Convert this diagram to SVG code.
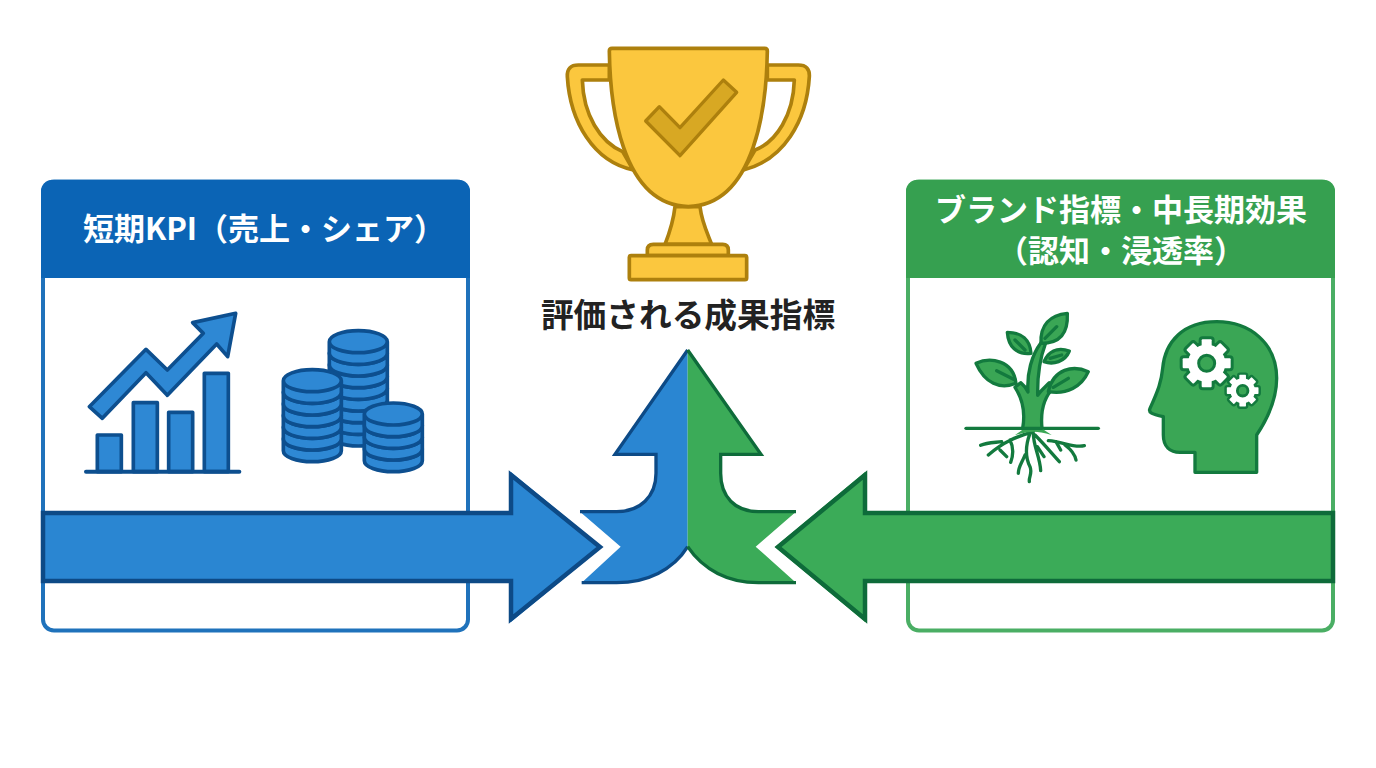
<svg xmlns="http://www.w3.org/2000/svg" width="1376" height="768" viewBox="0 0 1376 768">
<style>
text{font-family:"Noto Sans CJK JP","Noto Sans",sans-serif;font-weight:700;text-anchor:middle}
.hd{fill:#fff;font-size:31px}
.bf{fill:#2a86d2}.bs{fill:none;stroke:#0d4a86;stroke-width:4.500;stroke-linejoin:miter}
.gf{fill:#3bab58}.gs{fill:none;stroke:#0e6b3a;stroke-width:4.500;stroke-linejoin:miter}
.bi{fill:#2e88d4;stroke:#0d4f8f;stroke-width:11;stroke-linejoin:round}
.gi{fill:#3aa655;stroke:#137a3e;stroke-width:10;stroke-linejoin:round;stroke-linecap:round}
.gl{fill:none;stroke:#137a3e;stroke-width:10;stroke-linecap:round;stroke-linejoin:round}
.t{fill:#fbc73e;stroke:#ad800d;stroke-width:11;stroke-linejoin:round}
</style>
<defs>
<path id="coin" d="M-87,0V35A87,33 0 0 0 87,35V0A87,33 0 0 0 -87,0A87,33 0 0 0 87,0" class="bi"/>
<g id="gear"><circle r="56"/><rect x="-15" y="-72" width="30" height="36" rx="3"/><rect x="-15" y="-72" width="30" height="36" rx="3" transform="rotate(45)"/><rect x="-15" y="-72" width="30" height="36" rx="3" transform="rotate(90)"/><rect x="-15" y="-72" width="30" height="36" rx="3" transform="rotate(135)"/><rect x="-15" y="-72" width="30" height="36" rx="3" transform="rotate(180)"/><rect x="-15" y="-72" width="30" height="36" rx="3" transform="rotate(225)"/><rect x="-15" y="-72" width="30" height="36" rx="3" transform="rotate(270)"/><rect x="-15" y="-72" width="30" height="36" rx="3" transform="rotate(315)"/></g>
</defs>
<rect width="1376" height="768" fill="#fff"/>

<g id="panel-short">
<rect x="43" y="181.500" width="425" height="449" rx="11" fill="#fff" stroke="#1f72bb" stroke-width="4"/>
<path d="M41,278V191A11,11 0 0 1 52,180H459A11,11 0 0 1 470,191V278Z" fill="#0b64b5"/>
<text class="hd" x="264" y="240">短期KPI（売上・シェア）</text>
</g>
<g id="icon-chart" transform="translate(60,290) scale(.33333)">
<path class="bi" d="M88,350L258,178L322,240L430,130L398,98L527,70L503,200L470,162L322,316L258,248L127,385Z"/>
<rect class="bi" x="112" y="435" width="72" height="110"/>
<rect class="bi" x="220" y="338" width="72" height="207"/>
<rect class="bi" x="326" y="367" width="72" height="178"/>
<rect class="bi" x="433" y="250" width="72" height="295"/>
<path d="M78,545H538" stroke="#0d4f8f" stroke-width="12" stroke-linecap="round"/>
</g>
<g id="icon-coins" transform="translate(60,290) scale(.33333)">
<use href="#coin" x="895" y="400"/><use href="#coin" x="895" y="365"/><use href="#coin" x="895" y="330"/><use href="#coin" x="895" y="295"/><use href="#coin" x="895" y="260"/><use href="#coin" x="895" y="225"/><use href="#coin" x="895" y="190"/><use href="#coin" x="895" y="155"/>
<use href="#coin" x="757" y="447"/><use href="#coin" x="757" y="412"/><use href="#coin" x="757" y="377"/><use href="#coin" x="757" y="342"/><use href="#coin" x="757" y="307"/><use href="#coin" x="757" y="272"/>
<use href="#coin" x="1000" y="477"/><use href="#coin" x="1000" y="442"/><use href="#coin" x="1000" y="407"/><use href="#coin" x="1000" y="372"/>
</g>

<g id="panel-brand">
<rect x="908" y="181.500" width="425" height="449" rx="11" fill="#fff" stroke="#4aae64" stroke-width="4"/>
<path d="M906,278V191A11,11 0 0 1 917,180H1324A11,11 0 0 1 1335,191V278Z" fill="#36a050"/>
<text class="hd" x="1121" y="221">ブランド指標・中長期効果</text>
<text class="hd" x="1121" y="262">（認知・浸透率）</text>
</g>
<g id="icon-plant" transform="translate(950,300) scale(.33333)">
<path class="gl" d="M250,395C200,410 160,425 115,465M155,425C130,428 110,428 92,436M180,420C190,440 192,460 182,487M150,450L170,470M240,400C225,440 225,470 240,500C248,520 236,530 238,545M225,465C215,490 205,500 205,520M250,400C250,440 270,470 272,512M255,405C285,435 305,460 328,485M295,422C340,425 370,445 403,437M345,435C365,450 375,465 378,480M262,440L282,470M318,425L332,450"/>
<path d="M48,385H445" stroke="#137a3e" stroke-width="10" stroke-linecap="round"/>
<path d="M195,405Q225,385 225,380H270Q275,385 305,405Q270,395 252,395Q230,395 195,405Z" fill="#3aa655"/>
<path class="gi" d="M218,385C226,340 220,300 195,262L212,248C225,258 230,268 234,276C230,220 245,165 273,128L286,132C268,180 262,225 263,286C272,272 285,262 298,248L312,262C288,285 270,325 276,385Z"/>
<path class="gi" d="M352,40C300,45 270,75 273,130C330,130 355,100 352,40Z"/>
<path class="gi" d="M172,97C175,140 200,165 243,160C240,120 215,97 172,97Z"/>
<path class="gi" d="M358,153C320,140 295,155 282,185C310,195 345,185 358,153Z"/>
<path class="gi" d="M78,190C120,170 190,180 198,250C150,270 105,250 78,190Z"/>
<path class="gi" d="M415,215C370,195 310,205 295,275C350,285 395,260 415,215Z"/>
<path class="gl" d="M285,115L320,80M140,212L195,240M310,262L355,235M195,120L225,150M300,175L335,165"/>
</g>
<g id="icon-head" transform="translate(950,300) scale(.33333)">
<path class="gi" d="M735,517H920V405C950,360 980,300 980,235C980,130 900,65 800,65C700,65 645,125 638,205C634,245 625,270 600,325C594,338 605,342 640,350V405C640,440 660,457 690,457H735Z"/>
<g transform="translate(770,190)">
<use href="#gear" fill="#137a3e" stroke="#137a3e" stroke-width="18"/><use href="#gear" fill="#fff"/>
<circle r="24" fill="#3aa655" stroke="#137a3e" stroke-width="9"/>
</g>
<g transform="translate(878,272) scale(.66)">
<use href="#gear" fill="#137a3e" stroke="#137a3e" stroke-width="22"/><use href="#gear" fill="#fff"/>
<circle r="24" fill="#3aa655" stroke="#137a3e" stroke-width="13"/>
</g>
</g>

<g id="trophy" transform="translate(550,35) scale(.33333)">
<path class="t" d="M178,90H85Q50,90 52,125C60,260 130,380 250,405L218,350C150,320 100,240 97,135H178Z"/>
<path class="t" d="M652,90H745Q780,90 778,125C770,260 700,375 580,405L615,345C680,320 730,240 733,135H652Z"/>
<path class="t" d="M375,515C370,560 360,590 345,628H485C470,590 455,560 450,515Z"/>
<path class="t" d="M292,662V645Q292,628 310,628H518Q535,628 535,645V662Z"/>
<rect class="t" x="238" y="662" width="352" height="72" rx="5"/>
<path class="t" d="M178,48Q178,40 186,40H644Q652,40 652,48C650,200 620,510 415,515C210,510 180,200 178,48Z"/>
<path d="M287,258L328,215L390,278L520,135L560,172L390,362Z" fill="#d8a823" stroke="#ad800d" stroke-width="10" stroke-linejoin="round"/>
</g>
<g id="title"><text x="688" y="327" font-size="32.700" fill="#222">評価される成果指標</text></g>

<g id="connectors">
<g id="arrow-left">
<path class="bf" d="M41,513H511V472L602,547L511,622V581H41Z"/>
<path class="bs" d="M43,513H511V475L600,547L511,619V581H43Z"/>
</g>
<g id="arrow-right">
<path class="gf" d="M1335,513H865V472L775,547L865,622V581H1335Z"/>
<path class="gs" d="M1333,513H865V475L778,547L865,619V581H1333Z"/>
</g>
<g id="arrow-center" transform="translate(500,340) scale(.33333)">
<path class="bf" d="M563,30L345,343H468V400C468,470 420,515 350,515H240L362,620L245,728H350C440,728 520,690 563,620Z"/>
<path class="gf" d="M563,30L783,343H662V400C662,470 705,515 775,515H888L767,620L888,728H775C685,728 610,690 563,620Z"/>
<path d="M563,30L345,343H468V400C468,470 420,515 350,515H240M245,728H350C440,728 520,690 563,620" fill="none" stroke="#0d4a86" stroke-width="10"/>
<path d="M563,30L783,343H662V400C662,470 705,515 775,515H888M888,728H775C685,728 610,690 563,620" fill="none" stroke="#0e6b3a" stroke-width="10"/>
</g>
</g>
</svg>
